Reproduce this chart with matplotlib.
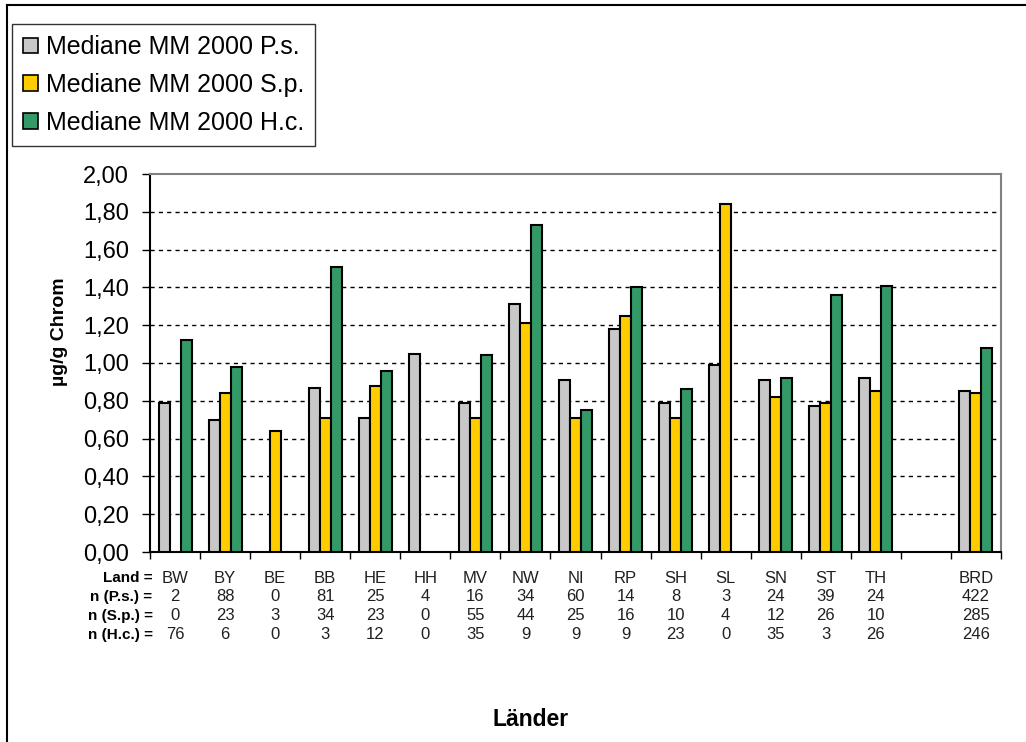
import matplotlib
matplotlib.use("Agg")
from matplotlib import pyplot as plt
from matplotlib.lines import Line2D
from matplotlib.patches import Patch
import numpy as np

plt.rcParams['font.family'] = ['Liberation Sans', 'DejaVu Sans']

laender = ["BW", "BY", "BE", "BB", "HE", "HH", "MV", "NW", "NI", "RP",
           "SH", "SL", "SN", "ST", "TH", "", "BRD"]
# Medianwerte in µg/g Chrom (None = keine Probe)
ps = [0.79, 0.70, None, 0.87, 0.71, 1.05, 0.79, 1.31, 0.91, 1.18,
      0.79, 0.99, 0.91, 0.77, 0.92, None, 0.85]
sp = [None, 0.84, 0.64, 0.71, 0.88, None, 0.71, 1.21, 0.71, 1.25,
      0.71, 1.84, 0.82, 0.79, 0.85, None, 0.84]
hc = [1.12, 0.98, None, 1.51, 0.96, None, 1.04, 1.73, 0.75, 1.40,
      0.86, None, 0.92, 1.36, 1.41, None, 1.08]
n_ps = ["2", "88", "0", "81", "25", "4", "16", "34", "60", "14",
        "8", "3", "24", "39", "24", "", "422"]
n_sp = ["0", "23", "3", "34", "23", "0", "55", "44", "25", "16",
        "10", "4", "12", "26", "10", "", "285"]
n_hc = ["76", "6", "0", "3", "12", "0", "35", "9", "9", "9",
        "23", "0", "35", "3", "26", "", "246"]
series = ["Mediane MM 2000 P.s.", "Mediane MM 2000 S.p.", "Mediane MM 2000 H.c."]
colors = ["#C8C8C8", "#FFCC00", "#339966"]

fig = plt.figure(figsize=(10.26, 7.42), dpi=100)
ax = fig.add_axes([150/1026, 1-552/742, 851/1026, 378/742])

x = np.arange(len(laender))
w = 0.22
for vals, off, col in zip([ps, sp, hc], [-w, 0, w], colors):
    xs = [xi + off for xi, v in zip(x, vals) if v is not None]
    ys = [v for v in vals if v is not None]
    ax.bar(xs, ys, width=w, color=col, edgecolor="black", linewidth=1.5, zorder=3)

ax.set_xlim(-0.5, len(laender) - 0.5)
ax.set_ylim(0, 2.0)
ax.set_yticks(np.arange(0, 2.01, 0.2))
ax.set_yticklabels([f"{v:.2f}".replace(".", ",") for v in np.arange(0, 2.01, 0.2)],
                   fontsize=17)
ax.set_xticks(np.arange(-0.5, len(laender), 1))
ax.set_xticklabels([])
ax.tick_params(axis="y", length=6, width=1, pad=9, direction="out")
ax.tick_params(axis="x", length=5, width=1, direction="out")
for g in np.arange(0.2, 1.81, 0.2):
    ax.axhline(g, color="black", linestyle=(0, (3, 3)), linewidth=1, zorder=1)

ax.spines["left"].set_color("black")
ax.spines["bottom"].set_color("black")
ax.spines["top"].set_color("#808080")
ax.spines["right"].set_color("#808080")
for s in ax.spines.values():
    s.set_linewidth(1.5)

# Tabelle unter der Achse
trans = ax.get_xaxis_transform()
rows = [("Land =", laender), ("n (P.s.) =", n_ps), ("n (S.p.) =", n_sp), ("n (H.c.) =", n_hc)]
row_y = [-0.069, -0.119, -0.169, -0.219]
for (lab, vals), ry in zip(rows, row_y):
    ax.text(0.003, ry, lab, transform=ax.transAxes, ha="right", va="center",
            fontsize=11, fontweight="bold")
    for xi, v in zip(x, vals):
        ax.text(xi, ry, v, transform=trans, ha="center", va="center", fontsize=12,
                color="#202020")

fig.text(60/1026, 1-332/742, "µg/g Chrom", rotation=90, ha="center", va="center",
         fontsize=14, fontweight="bold")
fig.text(531/1026, 1-720/742, "Länder", ha="center", va="center",
         fontsize=16.5, fontweight="bold")

handles = [Patch(facecolor=c, edgecolor="black", linewidth=1.2) for c in colors]
leg = fig.legend(handles, series, loc="upper left", bbox_to_anchor=(12/1026, 1-24/742),
                 fontsize=18, frameon=True, fancybox=False, handlelength=0.6,
                 handleheight=0.6, handletextpad=0.3, labelspacing=0.55,
                 borderpad=0.45, borderaxespad=0)
leg.get_frame().set_edgecolor("black")
leg.get_frame().set_linewidth(1)

# Rahmen oben und links
fig.add_artist(Line2D([7/1026, 1], [1-5/742, 1-5/742], color="black", linewidth=1.5,
                      transform=fig.transFigure))
fig.add_artist(Line2D([7/1026, 7/1026], [0, 1-5/742], color="black", linewidth=1.5,
                      transform=fig.transFigure))

fig.savefig("out.png", dpi=100)
